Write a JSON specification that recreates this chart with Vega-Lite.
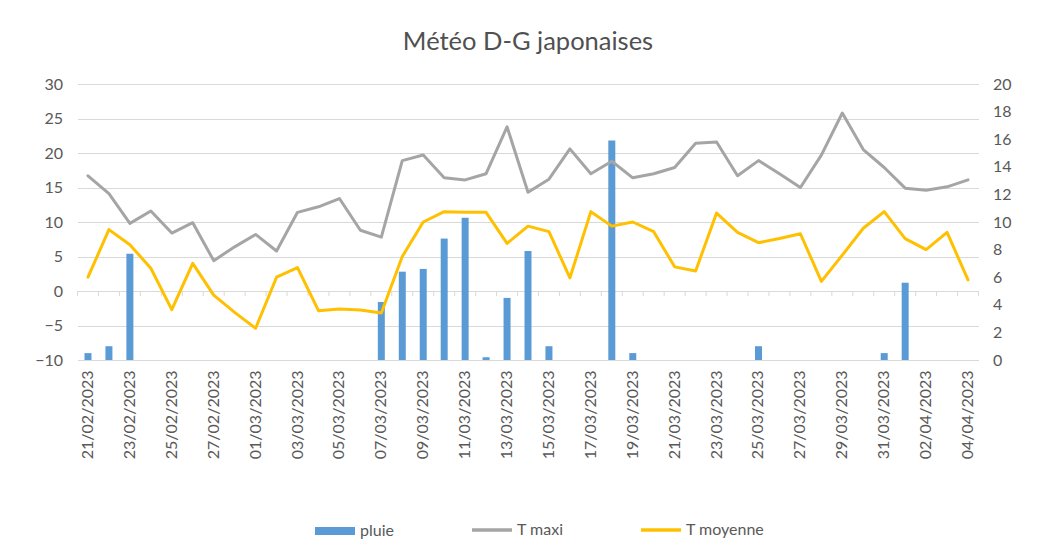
{
  "$schema": "https://vega.github.io/schema/vega-lite/v6.json",
  "width": 901,
  "height": 276,
  "autosize": {"type": "none"},
  "padding": {"left": 77.5, "top": 84, "right": 69.5, "bottom": 197},
  "background": "white",
  "title": {"text": "Météo D-G japonaises", "fontSize": 25.5, "font": "Lato", "fontWeight": "normal", "color": "#505050", "anchor": "middle", "offset": 21},
  "config": {
    "view": {"stroke": null},
    "font": "Lato",
    "axis": {"labelFont": "Lato", "labelFontSize": 16, "labelColor": "#595959"},
    "legend": {"labelFont": "Lato", "labelFontSize": 16, "labelColor": "#595959"}
  },
  "data": {"values": [
    {"date": "21/02/2023", "pluie": 0.5, "T maxi": 16.7, "T moyenne": 2.0},
    {"date": "22/02/2023", "pluie": 1.0, "T maxi": 14.1, "T moyenne": 8.9},
    {"date": "23/02/2023", "pluie": 7.7, "T maxi": 9.8, "T moyenne": 6.7},
    {"date": "24/02/2023", "pluie": 0, "T maxi": 11.6, "T moyenne": 3.3},
    {"date": "25/02/2023", "pluie": 0, "T maxi": 8.4, "T moyenne": -2.7},
    {"date": "26/02/2023", "pluie": 0, "T maxi": 9.9, "T moyenne": 4.0},
    {"date": "27/02/2023", "pluie": 0, "T maxi": 4.4, "T moyenne": -0.6},
    {"date": "28/02/2023", "pluie": 0, "T maxi": 6.4, "T moyenne": -3.1},
    {"date": "01/03/2023", "pluie": 0, "T maxi": 8.2, "T moyenne": -5.4},
    {"date": "02/03/2023", "pluie": 0, "T maxi": 5.8, "T moyenne": 2.0},
    {"date": "03/03/2023", "pluie": 0, "T maxi": 11.4, "T moyenne": 3.4},
    {"date": "04/03/2023", "pluie": 0, "T maxi": 12.2, "T moyenne": -2.85},
    {"date": "05/03/2023", "pluie": 0, "T maxi": 13.4, "T moyenne": -2.6},
    {"date": "06/03/2023", "pluie": 0, "T maxi": 8.8, "T moyenne": -2.75},
    {"date": "07/03/2023", "pluie": 4.2, "T maxi": 7.8, "T moyenne": -3.2},
    {"date": "08/03/2023", "pluie": 6.4, "T maxi": 18.9, "T moyenne": 5.0},
    {"date": "09/03/2023", "pluie": 6.6, "T maxi": 19.7, "T moyenne": 10.0},
    {"date": "10/03/2023", "pluie": 8.8, "T maxi": 16.4, "T moyenne": 11.5},
    {"date": "11/03/2023", "pluie": 10.3, "T maxi": 16.1, "T moyenne": 11.4},
    {"date": "12/03/2023", "pluie": 0.2, "T maxi": 17.0, "T moyenne": 11.4},
    {"date": "13/03/2023", "pluie": 4.5, "T maxi": 23.8, "T moyenne": 6.9},
    {"date": "14/03/2023", "pluie": 7.9, "T maxi": 14.3, "T moyenne": 9.4},
    {"date": "15/03/2023", "pluie": 1.0, "T maxi": 16.2, "T moyenne": 8.6},
    {"date": "16/03/2023", "pluie": 0, "T maxi": 20.6, "T moyenne": 1.9},
    {"date": "17/03/2023", "pluie": 0, "T maxi": 17.0, "T moyenne": 11.5},
    {"date": "18/03/2023", "pluie": 15.9, "T maxi": 18.8, "T moyenne": 9.4},
    {"date": "19/03/2023", "pluie": 0.5, "T maxi": 16.4, "T moyenne": 10.0},
    {"date": "20/03/2023", "pluie": 0, "T maxi": 17.0, "T moyenne": 8.6},
    {"date": "21/03/2023", "pluie": 0, "T maxi": 17.9, "T moyenne": 3.5},
    {"date": "22/03/2023", "pluie": 0, "T maxi": 21.4, "T moyenne": 2.9},
    {"date": "23/03/2023", "pluie": 0, "T maxi": 21.6, "T moyenne": 11.3},
    {"date": "24/03/2023", "pluie": 0, "T maxi": 16.7, "T moyenne": 8.5},
    {"date": "25/03/2023", "pluie": 1.0, "T maxi": 18.9, "T moyenne": 7.0},
    {"date": "26/03/2023", "pluie": 0, "T maxi": 17.0, "T moyenne": 7.6},
    {"date": "27/03/2023", "pluie": 0, "T maxi": 15.0, "T moyenne": 8.3},
    {"date": "28/03/2023", "pluie": 0, "T maxi": 19.7, "T moyenne": 1.4},
    {"date": "29/03/2023", "pluie": 0, "T maxi": 25.8, "T moyenne": 5.2},
    {"date": "30/03/2023", "pluie": 0, "T maxi": 20.5, "T moyenne": 9.1},
    {"date": "31/03/2023", "pluie": 0.5, "T maxi": 17.9, "T moyenne": 11.5},
    {"date": "01/04/2023", "pluie": 5.6, "T maxi": 14.9, "T moyenne": 7.6},
    {"date": "02/04/2023", "pluie": 0, "T maxi": 14.6, "T moyenne": 6.0},
    {"date": "03/04/2023", "pluie": 0, "T maxi": 15.1, "T moyenne": 8.5},
    {"date": "04/04/2023", "pluie": 0, "T maxi": 16.1, "T moyenne": 1.6}
  ]},
  "layer": [
    {
      "mark": {"type": "rule", "color": "#D9D9D9", "strokeWidth": 1},
      "encoding": {
        "x": {
          "field": "date", "type": "ordinal", "sort": null, "bandPosition": 0,
          "scale": {"paddingInner": 0, "paddingOuter": 0},
          "axis": {"orient": "bottom", "labelAngle": -90, "values": ["21/02/2023", "23/02/2023", "25/02/2023", "27/02/2023", "01/03/2023", "03/03/2023", "05/03/2023", "07/03/2023", "09/03/2023", "11/03/2023", "13/03/2023", "15/03/2023", "17/03/2023", "19/03/2023", "21/03/2023", "23/03/2023", "25/03/2023", "27/03/2023", "29/03/2023", "31/03/2023", "02/04/2023", "04/04/2023"], "domain": false, "ticks": false, "grid": false, "labelPadding": 10, "title": null}
        },
        "y": {"datum": 0, "type": "quantitative", "scale": {"domain": [-10, 30], "nice": false}, "axis": null},
        "y2": {"datum": -0.75}
      }
    },
    {
      "transform": [{"filter": "datum.date === '04/04/2023'"}],
      "mark": {"type": "rule", "color": "#D9D9D9", "strokeWidth": 1},
      "encoding": {
        "x": {"field": "date", "type": "ordinal", "sort": null, "bandPosition": 1},
        "y": {"datum": 0, "type": "quantitative", "scale": {"domain": [-10, 30], "nice": false}, "axis": null},
        "y2": {"datum": -0.75}
      }
    },
    {
      "mark": {"type": "bar", "width": 7},
      "encoding": {
        "x": {"field": "date", "type": "ordinal", "sort": null},
        "y": {
          "field": "pluie", "type": "quantitative",
          "scale": {"domain": [0, 20], "nice": false},
          "axis": {"orient": "right", "values": [0, 2, 4, 6, 8, 10, 12, 14, 16, 18, 20], "grid": false, "domain": false, "ticks": false, "labelPadding": 14, "title": null}
        },
        "color": {
          "datum": "pluie",
          "scale": {"domain": ["pluie"], "range": ["#5B9BD5"]},
          "legend": {"orient": "none", "legendX": 237.5, "legendY": 427, "title": null, "padding": 0, "symbolType": "M-1,-0.2H1V0.2H-1Z", "symbolSize": 1600, "symbolStrokeWidth": 0, "labelOffset": 5}
        }
      }
    },
    {
      "transform": [{"fold": ["T maxi", "T moyenne"], "as": ["serie", "valeur"]}],
      "mark": {"type": "line", "strokeWidth": 3, "strokeJoin": "round", "strokeCap": "round"},
      "encoding": {
        "x": {"field": "date", "type": "ordinal", "sort": null},
        "y": {
          "field": "valeur", "type": "quantitative",
          "scale": {"domain": [-10, 30], "nice": false},
          "axis": {"orient": "left", "values": [-10, -5, 0, 5, 10, 15, 20, 25, 30], "grid": true, "gridColor": "#D9D9D9", "domain": false, "ticks": false, "labelPadding": 15, "title": null}
        },
        "stroke": {
          "field": "serie", "type": "nominal",
          "scale": {"domain": ["T maxi", "T moyenne"], "range": ["#A5A5A5", "#FFC000"]},
          "legend": {"orient": "none", "direction": "horizontal", "legendX": 392.5, "legendY": 424, "title": null, "padding": 0, "symbolType": "stroke", "symbolSize": 1600, "symbolStrokeWidth": 3.5, "columnPadding": 70, "labelOffset": 3}
        }
      }
    }
  ],
  "resolve": {"scale": {"y": "independent"}}
}
